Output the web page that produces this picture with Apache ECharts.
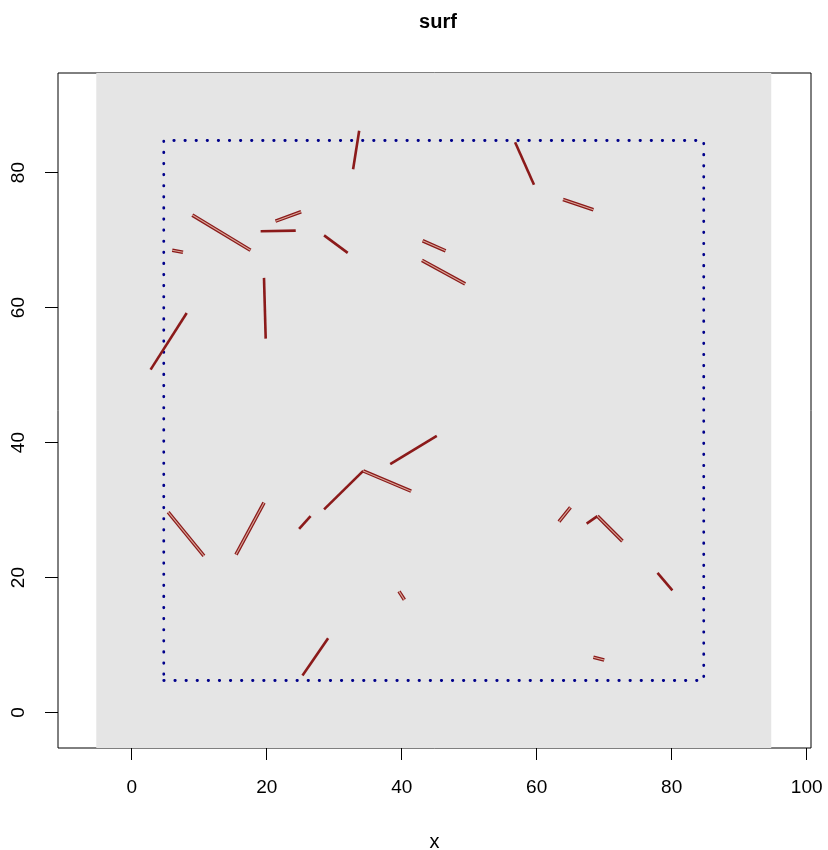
<!DOCTYPE html>
<html>
<head>
<meta charset="utf-8">
<script src="https://cdn.jsdelivr.net/npm/echarts@6/dist/echarts.min.js"></script>
<style>
  html, body { margin: 0; padding: 0; background: #fff; }
  #chart { width: 828px; height: 850px; }
</style>
</head>
<body>
<div id="chart"></div>
<script>
  // segment end points (x0, y0) -> (x1, y1)
  const segX0 = [8.98, 21.3, 19.1, 28.5, 6.0, 19.6, 8.15, 33.7, 56.8, 43.1, 43.0, 63.9, 5.4,
                 19.6, 26.5, 28.5, 34.3, 38.3, 39.6, 63.3, 67.4, 69.0, 77.9, 29.1, 68.4];
  const segY0 = [73.7, 72.8, 71.3, 70.7, 68.5, 64.4, 59.2, 86.2, 84.5, 69.9, 67.0, 76.0, 29.7,
                 31.1, 29.1, 30.1, 35.8, 36.8, 17.95, 28.3, 28.0, 29.1, 20.7, 11.0, 8.2];
  const segX1 = [17.6, 25.1, 24.3, 32.0, 7.6, 19.85, 2.8, 32.8, 59.6, 46.5, 49.4, 68.4, 10.7,
                 15.45, 24.8, 34.3, 41.4, 45.2, 40.4, 65.0, 69.0, 72.7, 80.1, 25.3, 70.0];
  const segY1 = [68.5, 74.2, 71.4, 68.1, 68.2, 55.4, 50.8, 80.5, 78.2, 68.4, 63.5, 74.5, 23.2,
                 23.4, 27.2, 35.8, 32.8, 41.0, 16.7, 30.4, 29.1, 25.4, 18.1, 5.5, 7.8];
  // segments drawn as hollow strips
  const hollow = [0, 1, 4, 9, 10, 11, 12, 13, 16, 18, 19, 21, 24];

  // window (grey) and inner dotted square
  const winMin = -5.25, winMax = 94.75;
  const boxX = [4.75, 84.75, 84.75, 4.75, 4.75];
  const boxY = [4.75, 4.75, 84.75, 84.75, 4.75];

  const xTicks = [0, 20, 40, 60, 80, 100];
  const yTicks = [0, 20, 40, 60, 80];

  const font = 'Liberation Sans';
  const segRed = '#8B1A1A';

  let chartDom = document.getElementById('chart');
  let myChart = echarts.init(chartDom);

  let allSegs = segX0.map((x, i) => ({ coords: [[x, segY0[i]], [segX1[i], segY1[i]]] }));
  let solidSegs = allSegs.filter((s, i) => hollow.indexOf(i) < 0);
  let hollowSegs = allSegs.filter((s, i) => hollow.indexOf(i) >= 0);

  let option = {
    animation: false,
    backgroundColor: '#fff',
    title: {
      text: 'surf',
      left: 433,
      top: 7,
      textAlign: 'center',
      textStyle: { fontFamily: font, fontSize: 20, fontWeight: 'bold', color: '#000' }
    },
    grid: {
      left: 58, top: 73, width: 753, height: 675,
      outerBoundsMode: 'none',
      containLabel: false,
      show: true, borderColor: '#000', borderWidth: 1, backgroundColor: 'transparent'
    },
    xAxis: {
      type: 'value',
      min: -10.92, max: 100.64,
      name: 'x',
      nameLocation: 'middle',
      nameGap: 84,
      nameTextStyle: { fontFamily: font, fontSize: 20, color: '#000' },
      axisLine: { show: false, onZero: false },
      splitLine: { show: false },
      axisTick: { show: true, length: 12, customValues: xTicks, lineStyle: { color: '#000' } },
      axisLabel: { customValues: xTicks, margin: 30, fontFamily: font, fontSize: 19, color: '#000' }
    },
    yAxis: {
      type: 'value',
      min: -5.25, max: 94.75,
      axisLine: { show: false, onZero: false },
      splitLine: { show: false },
      axisTick: { show: true, length: 13, customValues: yTicks, lineStyle: { color: '#000' } },
      axisLabel: { customValues: yTicks, rotate: 90, margin: 30, fontFamily: font, fontSize: 19, color: '#000' }
    },
    series: [
      {
        type: 'custom',
        silent: true,
        z: 1,
        data: [[winMin, winMin, winMax, winMax]],
        renderItem: function (params, api) {
          let p0 = api.coord([api.value(0), api.value(1)]);
          let p1 = api.coord([api.value(2), api.value(3)]);
          return {
            type: 'rect',
            shape: { x: p0[0], y: p1[1], width: p1[0] - p0[0], height: p0[1] - p1[1] },
            style: { fill: '#E5E5E5' }
          };
        }
      },
      {
        type: 'line',
        z: 2,
        symbol: 'none',
        silent: true,
        data: boxX.map((x, i) => [x, boxY[i]]),
        lineStyle: { color: '#00008B', width: 2.8, type: [0.4, 10.7], cap: 'round' }
      },
      {
        type: 'lines',
        coordinateSystem: 'cartesian2d',
        z: 3,
        silent: true,
        data: solidSegs,
        lineStyle: { color: segRed, width: 2.6, opacity: 1 }
      },
      {
        type: 'lines',
        coordinateSystem: 'cartesian2d',
        z: 3,
        silent: true,
        data: hollowSegs,
        lineStyle: { color: segRed, width: 3.6, opacity: 1 }
      },
      {
        type: 'lines',
        coordinateSystem: 'cartesian2d',
        z: 4,
        silent: true,
        data: hollowSegs,
        lineStyle: { color: '#D9A89A', width: 1.1, opacity: 1 }
      }
    ]
  };
  option && myChart.setOption(option);
</script>
</body>
</html>
